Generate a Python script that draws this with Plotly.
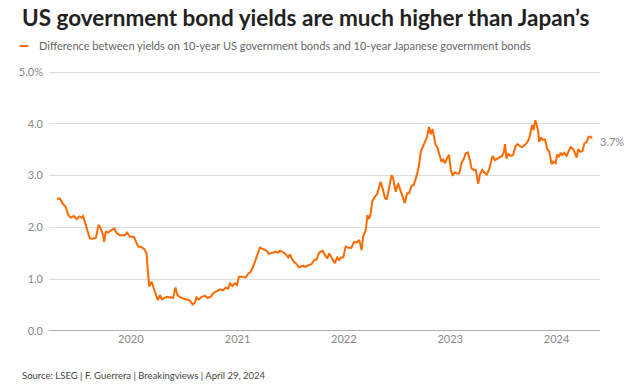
import plotly.graph_objects as go

dates = [
    "2019-04-23","2019-04-30","2019-05-02","2019-05-12","2019-05-22","2019-05-31","2019-06-08","2019-06-19",
    "2019-06-29","2019-07-08","2019-07-16","2019-07-21","2019-07-31","2019-08-05","2019-08-13","2019-08-23",
    "2019-09-03","2019-09-12","2019-09-20","2019-09-28","2019-10-01","2019-10-07","2019-10-15","2019-10-24",
    "2019-11-05","2019-11-13","2019-11-24","2019-12-11","2019-12-19","2019-12-29",
    "2020-01-11","2020-01-26","2020-02-07","2020-02-16","2020-02-24","2020-02-27","2020-03-04","2020-03-12",
    "2020-03-20","2020-03-27","2020-04-02","2020-04-10","2020-04-17","2020-05-03","2020-05-25","2020-06-02",
    "2020-06-09","2020-06-17","2020-06-26","2020-07-10","2020-07-21","2020-07-31","2020-08-08","2020-08-13",
    "2020-08-21","2020-08-31","2020-09-11","2020-09-19","2020-10-01","2020-10-09","2020-10-21","2020-11-01",
    "2020-11-13","2020-11-22","2020-11-30","2020-12-06","2020-12-14","2020-12-23","2020-12-30",
    "2021-01-06","2021-01-17","2021-01-29","2021-02-07","2021-02-15","2021-02-24","2021-03-05","2021-03-10",
    "2021-03-19","2021-03-30","2021-04-11","2021-04-18","2021-04-28","2021-05-12","2021-05-21","2021-05-26",
    "2021-06-05","2021-06-16","2021-06-24","2021-06-30","2021-07-06","2021-07-13","2021-07-23","2021-07-31",
    "2021-08-14","2021-08-23","2021-09-01","2021-09-12","2021-09-21","2021-09-29","2021-10-08","2021-10-20",
    "2021-10-28","2021-11-05","2021-11-12","2021-11-20","2021-12-01","2021-12-09","2021-12-16","2021-12-22",
    "2021-12-30",
    "2022-01-07","2022-01-16","2022-01-27","2022-02-05","2022-02-14","2022-02-23","2022-03-03","2022-03-08",
    "2022-03-17","2022-03-23","2022-03-28","2022-04-03","2022-04-08","2022-04-17","2022-04-25","2022-05-07",
    "2022-05-14","2022-05-22","2022-05-28","2022-06-05","2022-06-14","2022-06-19","2022-06-28","2022-07-06",
    "2022-07-15","2022-07-24","2022-07-29","2022-08-06","2022-08-13","2022-08-21","2022-08-29","2022-09-08",
    "2022-09-15","2022-09-22","2022-09-30","2022-10-08","2022-10-14","2022-10-20","2022-10-26","2022-11-01",
    "2022-11-06","2022-11-12","2022-11-17","2022-11-24","2022-12-02","2022-12-08","2022-12-14","2022-12-22",
    "2022-12-28",
    "2023-01-03","2023-01-09","2023-01-17","2023-01-25","2023-02-01","2023-02-09","2023-02-17","2023-02-23",
    "2023-03-02","2023-03-10","2023-03-15","2023-03-23","2023-03-30","2023-04-07","2023-04-13","2023-04-21",
    "2023-04-28","2023-05-06","2023-05-14","2023-05-20","2023-05-26","2023-06-03","2023-06-11","2023-06-20",
    "2023-06-28","2023-07-04","2023-07-08","2023-07-13","2023-07-19","2023-07-27","2023-08-05","2023-08-13",
    "2023-08-20","2023-08-28","2023-09-05","2023-09-14","2023-09-22","2023-09-29","2023-10-05","2023-10-09",
    "2023-10-14","2023-10-20","2023-10-24","2023-10-30","2023-11-02","2023-11-08","2023-11-14","2023-11-22",
    "2023-11-30","2023-12-07","2023-12-15","2023-12-20","2023-12-29",
    "2024-01-03","2024-01-09","2024-01-15","2024-01-20","2024-01-27","2024-02-04","2024-02-12","2024-02-18",
    "2024-02-27","2024-03-04","2024-03-10","2024-03-15","2024-03-23","2024-03-30","2024-04-05","2024-04-13",
    "2024-04-20","2024-04-27","2024-05-02",
]

spread = [
    2.55,2.57,2.56,2.46,2.40,2.24,2.19,2.22,
    2.16,2.21,2.19,2.22,2.05,1.95,1.79,1.78,
    1.80,2.05,1.97,1.85,1.72,1.92,1.90,1.94,
    1.98,1.89,1.85,1.85,1.90,1.82,
    1.82,1.63,1.62,1.58,1.50,1.24,0.86,0.95,
    0.82,0.73,0.60,0.69,0.61,0.66,0.64,0.84,
    0.69,0.66,0.63,0.61,0.59,0.51,0.55,0.65,
    0.61,0.66,0.68,0.64,0.66,0.73,0.76,0.80,
    0.79,0.84,0.82,0.92,0.87,0.92,0.89,
    1.05,1.05,1.03,1.11,1.14,1.25,1.37,1.47,
    1.61,1.58,1.55,1.49,1.51,1.53,1.51,1.55,
    1.53,1.48,1.42,1.48,1.40,1.34,1.29,1.23,
    1.26,1.24,1.27,1.29,1.37,1.38,1.51,1.55,
    1.47,1.40,1.50,1.43,1.31,1.42,1.37,1.42,
    1.42,
    1.63,1.61,1.61,1.72,1.71,1.76,1.56,1.82,
    1.95,2.24,2.16,2.27,2.50,2.59,2.64,2.88,
    2.75,2.57,2.54,2.80,3.01,2.95,2.69,2.85,
    2.69,2.53,2.47,2.66,2.66,2.80,2.82,3.01,
    3.17,3.46,3.57,3.65,3.76,3.94,3.80,3.90,
    3.78,3.59,3.56,3.43,3.27,3.31,3.24,3.35,
    3.40,
    3.11,3.01,3.06,3.04,3.04,3.25,3.33,3.43,
    3.45,3.30,3.14,3.11,3.11,2.84,3.02,3.11,
    3.06,3.02,3.11,3.25,3.38,3.30,3.33,3.36,
    3.38,3.46,3.61,3.33,3.42,3.38,3.40,3.57,
    3.61,3.57,3.55,3.59,3.64,3.72,3.88,3.98,
    3.88,4.07,4.00,3.85,3.65,3.74,3.69,3.70,
    3.51,3.46,3.22,3.27,3.24,
    3.41,3.36,3.44,3.40,3.44,3.38,3.48,3.55,
    3.51,3.42,3.35,3.51,3.46,3.48,3.62,3.65,
    3.75,3.75,3.72,
]

y_ticks = [0, 1, 2, 3, 4, 5]
y_tick_labels = ["0.0", "1.0", "2.0", "3.0", "4.0", "5.0%"]
x_ticks = ["2020-01-01", "2021-01-01", "2022-01-01", "2023-01-01", "2024-01-01"]
x_tick_labels = ["2020", "2021", "2022", "2023", "2024"]

title = "US government bond yields are much higher than Japan’s"
legend_label = "Difference between yields on 10-year US government bonds and 10-year Japanese government bonds"
source = "Source: LSEG | F. Guerrera | Breakingviews | April 29, 2024"
end_label = "3.7%"

ORANGE = "#FF6A00"
FONT = "Source Sans Pro, Lato, Noto Sans, sans-serif"

fig = go.Figure()
fig.add_trace(go.Scatter(x=dates, y=spread, mode="lines",
                         line=dict(color=ORANGE, width=2), hoverinfo="x+y", showlegend=False))

fig.update_layout(
    width=640, height=386,
    margin=dict(l=49, r=40, t=70, b=55),
    paper_bgcolor="white", plot_bgcolor="white",
    font=dict(family=FONT, color="#888888", size=11),
    xaxis=dict(type="date", range=["2019-03-26", "2024-05-29"],
               tickvals=x_ticks, ticktext=x_tick_labels,
               showgrid=False, zeroline=False, showline=False, ticks="",
               tickfont=dict(size=11, color="#888888")),
    yaxis=dict(range=[0, 5.04], tickvals=y_ticks, ticktext=y_tick_labels,
               showgrid=True, gridcolor="#DDDDDD", gridwidth=1,
               zeroline=False, showline=False, ticks="", ticklabelstandoff=5,
               tickfont=dict(size=11, color="#888888")),
)

# zero baseline
fig.add_shape(type="line", xref="paper", yref="y", x0=0, x1=1, y0=0, y1=0,
              line=dict(color="#999999", width=1.5), layer="above")

# title
fig.add_annotation(text="<b>" + title + "</b>", xref="paper", yref="paper",
                   x=-0.0535, y=1.203, xanchor="left", yanchor="middle", showarrow=False,
                   font=dict(family=FONT, size=22.5, color="#222222"))
# legend swatch + label
fig.add_shape(type="line", xref="paper", yref="paper", x0=-0.0535, x1=-0.0375, y0=1.092, y1=1.092,
              line=dict(color=ORANGE, width=2))
fig.add_annotation(text=legend_label, xref="paper", yref="paper",
                   x=-0.0215, y=1.092, xanchor="left", yanchor="middle", showarrow=False,
                   font=dict(family=FONT, size=11, color="#666666"))
# source
fig.add_annotation(text=source, xref="paper", yref="paper",
                   x=-0.0535, y=-0.172, xanchor="left", yanchor="middle", showarrow=False,
                   font=dict(family=FONT, size=9.5, color="#444444"))
# end label
fig.add_annotation(text=end_label, x=dates[-1], y=spread[-1], xanchor="left", yanchor="middle",
                   xshift=6, yshift=-3, showarrow=False,
                   font=dict(family=FONT, size=11, color="#888888"))

fig.write_html("out.html", config={"displayModeBar": False},
               post_script="document.body.style.margin='0';")
